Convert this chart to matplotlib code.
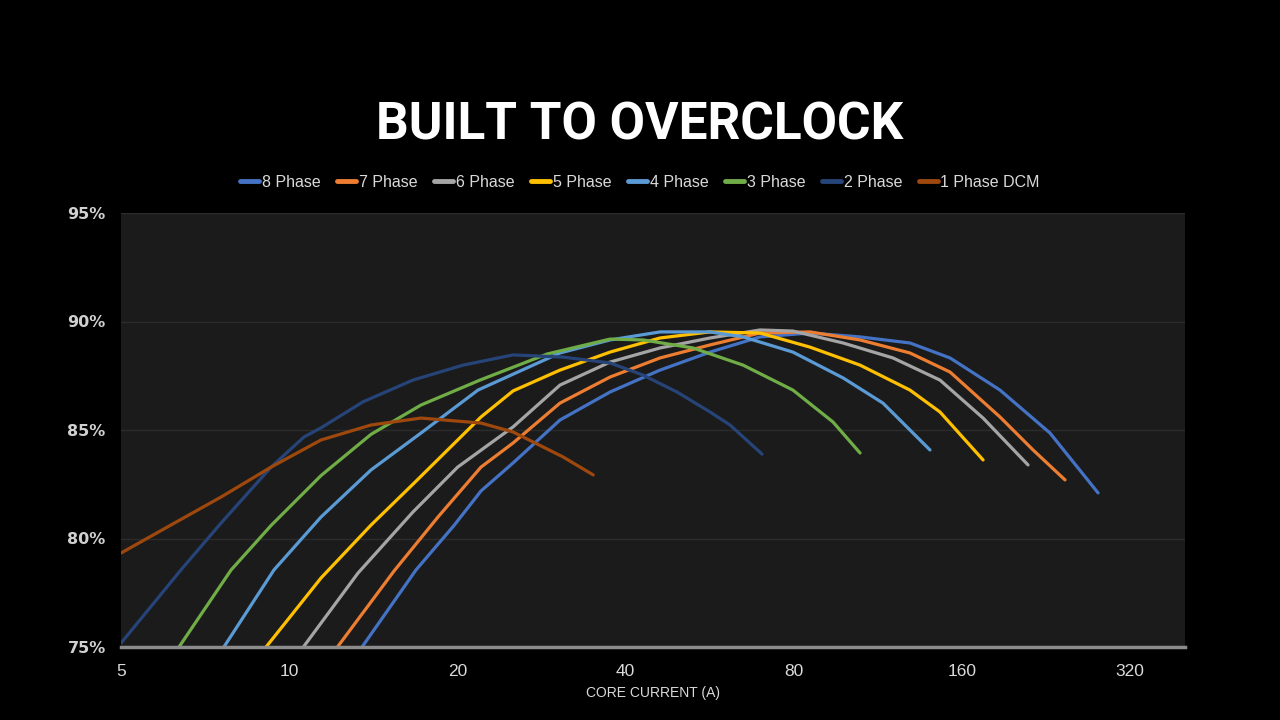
import matplotlib.pyplot as plt
from matplotlib.ticker import FixedLocator, NullLocator

# efficiency curves: core current (A) vs efficiency (%)
phase8_x = [13.5, 16.86, 19.72, 22.04, 25.15, 30.52, 37.51, 46.09, 56.64, 69.6, 85.5, 105.1, 129.1, 152.3, 187.1, 229.9, 280.3]
phase8_y = [75.0, 78.55, 80.6, 82.19, 83.48, 85.46, 86.75, 87.76, 88.59, 89.29, 89.47, 89.29, 89.01, 88.32, 86.84, 84.86, 82.10]

phase7_x = [12.2, 15.40, 18.46, 22.04, 25.15, 30.52, 37.51, 46.09, 56.64, 69.6, 85.5, 105.1, 129.1, 152.3, 187.1, 214.4, 244.6]
phase7_y = [75.0, 78.50, 80.99, 83.29, 84.40, 86.24, 87.44, 88.32, 88.92, 89.47, 89.52, 89.15, 88.55, 87.67, 85.60, 84.08, 82.70]

phase6_x = [10.6, 13.28, 16.65, 20.02, 25.15, 30.52, 37.51, 46.09, 56.64, 69.6, 79.7, 98.0, 120.4, 146.1, 174.5, 210]
phase6_y = [75.0, 78.41, 81.22, 83.29, 85.14, 87.07, 88.13, 88.78, 89.24, 89.61, 89.56, 89.01, 88.32, 87.30, 85.55, 83.39]

phase5_x = [9.09, 11.40, 14.01, 16.8, 22.04, 25.15, 30.52, 37.51, 46.09, 56.64, 69.6, 85.5, 105.1, 129.1, 146.1, 174.5]
phase5_y = [75.0, 78.18, 80.62, 82.60, 85.60, 86.80, 87.76, 88.59, 89.24, 89.52, 89.47, 88.82, 87.99, 86.84, 85.83, 83.62]

phase4_x = [7.64, 9.39, 11.40, 14.01, 17.21, 21.77, 30.52, 37.51, 46.09, 56.64, 64.9, 79.7, 98.0, 115.5, 140.2]
phase4_y = [75.0, 78.55, 80.99, 83.16, 84.86, 86.84, 88.55, 89.15, 89.52, 89.52, 89.29, 88.59, 87.40, 86.24, 84.08]

phase3_x = [6.35, 7.87, 9.28, 11.40, 14.01, 17.21, 21.95, 28.93, 37.51, 42.97, 52.81, 64.9, 79.7, 94.0, 105.1]
phase3_y = [75.0, 78.55, 80.6, 82.9, 84.8, 86.15, 87.30, 88.50, 89.19, 89.15, 88.78, 87.99, 86.84, 85.37, 83.94]

phase2_x = [5.0, 6.40, 7.55, 9.28, 10.63, 11.40, 13.56, 16.65, 20.47, 25.15, 30.9, 37.51, 42.97, 49.44, 56.64, 61.51, 70.17]
phase2_y = [75.18, 78.55, 80.71, 83.29, 84.68, 85.10, 86.30, 87.30, 87.99, 88.46, 88.36, 88.09, 87.53, 86.75, 85.83, 85.23, 83.89]

phase1_x = [5.0, 6.14, 7.55, 9.28, 11.40, 14.01, 17.21, 22.04, 25.15, 30.9, 35.0]
phase1_y = [79.33, 80.62, 81.91, 83.29, 84.54, 85.23, 85.55, 85.32, 84.91, 83.76, 82.93]

series = [
    ("8 Phase", phase8_x, phase8_y, "#4472C4"),
    ("7 Phase", phase7_x, phase7_y, "#ED7D31"),
    ("6 Phase", phase6_x, phase6_y, "#A5A5A5"),
    ("5 Phase", phase5_x, phase5_y, "#FFC000"),
    ("4 Phase", phase4_x, phase4_y, "#5B9BD5"),
    ("3 Phase", phase3_x, phase3_y, "#70AD47"),
    ("2 Phase", phase2_x, phase2_y, "#264478"),
    ("1 Phase DCM", phase1_x, phase1_y, "#9E480E"),
]

x_ticks = [5, 10, 20, 40, 80, 160, 320]
y_ticks = [75, 80, 85, 90, 95]

fig = plt.figure(figsize=(12.8, 7.2), dpi=100, facecolor="black")
ax = fig.add_axes([121 / 1280, 73 / 720, 1064 / 1280, 434 / 720])
ax.set_facecolor("#1b1b1b")

for name, xs, ys, color in series:
    ax.plot(xs, ys, color=color, lw=2.3, label=name,
            solid_capstyle="round", solid_joinstyle="round")

ax.set_xscale("log", base=2)
ax.set_xlim(5, 401)
ax.set_ylim(75, 95)
ax.xaxis.set_major_locator(FixedLocator(x_ticks))
ax.xaxis.set_minor_locator(NullLocator())
ax.set_xticklabels([str(t) for t in x_ticks])
ax.set_yticks(y_ticks)
ax.set_yticklabels([f"{t}%" for t in y_ticks])

for s in ["top", "right", "left"]:
    ax.spines[s].set_visible(False)
ax.spines["bottom"].set_color("#8c8c8c")
ax.spines["bottom"].set_linewidth(2.5)
ax.spines["bottom"].set_zorder(5)

ax.tick_params(length=0, colors="#d9d9d9")
ax.tick_params(axis="x", pad=12)
ax.tick_params(axis="y", pad=11)
for lab in ax.get_xticklabels():
    lab.set_family("Liberation Sans")
    lab.set_fontsize(12.5)
for lab in ax.get_yticklabels():
    lab.set_family("DejaVu Sans")
    lab.set_fontsize(11.5)
    lab.set_fontweight("bold")
    lab.set_color("#d0d0d0")

ax.grid(axis="y", color="#2c2c2c", lw=1)
ax.set_axisbelow(True)

ax.set_xlabel("CORE CURRENT (A)", color="#d9d9d9", fontsize=10,
              family="Liberation Sans", labelpad=5)

fig.text(0.5, 0.826, "BUILT TO OVERCLOCK", color="white", fontsize=37,
         fontweight="bold", family="Roboto", ha="center", va="center")

leg = fig.legend(loc="center", bbox_to_anchor=(0.500, 0.747), ncol=8,
                 frameon=False, handlelength=1.2, handletextpad=0.15,
                 columnspacing=1.05,
                 prop={"family": "Liberation Sans", "size": 11.5})
for t in leg.get_texts():
    t.set_color("#d9d9d9")
for h in leg.get_lines():
    h.set_linewidth(3.5)
    h.set_solid_capstyle("round")

fig.savefig("out.png", dpi=100, facecolor="black")
